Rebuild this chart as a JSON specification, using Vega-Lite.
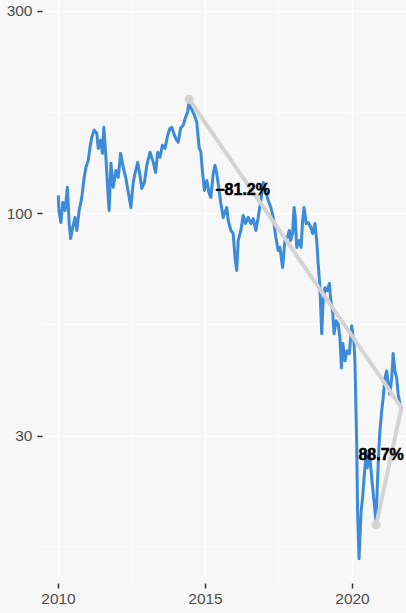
{
  "$schema": "https://vega.github.io/schema/vega-lite/v6.json",
  "usermeta": {"embedOptions": {"actions": false}},
  "width": 364,
  "height": 583,
  "autosize": {"type": "none"},
  "padding": {"left": 42, "top": 0, "right": 0, "bottom": 30},
  "background": "#f7f7f7",
  "config": {
    "view": {"fill": "#f7f7f7", "stroke": null},
    "font": "Liberation Sans",
    "axis": {
      "domain": false,
      "grid": true,
      "gridColor": "#ffffff",
      "gridWidth": 1.6,
      "tickColor": "#333333",
      "tickSize": 5,
      "tickWidth": 1.5,
      "labelFontSize": 15.5,
      "labelColor": "#4d4d4d",
      "labelFont": "Liberation Sans",
      "labelFlush": false,
      "labelOverlap": false
    }
  },
  "datasets": {
    "series": [
      {"t": 2010.01, "v": 110.3}, {"t": 2010.03, "v": 101.6}, {"t": 2010.10, "v": 95.2}, {"t": 2010.16, "v": 106.2},
      {"t": 2010.24, "v": 101.6}, {"t": 2010.32, "v": 115.2}, {"t": 2010.38, "v": 94.7}, {"t": 2010.43, "v": 87.3},
      {"t": 2010.50, "v": 92.7}, {"t": 2010.58, "v": 97.9}, {"t": 2010.64, "v": 91.2}, {"t": 2010.72, "v": 101.6},
      {"t": 2010.81, "v": 109.1}, {"t": 2010.89, "v": 121.6}, {"t": 2010.95, "v": 128.4}, {"t": 2011.03, "v": 133.4},
      {"t": 2011.09, "v": 143.1}, {"t": 2011.15, "v": 151.1}, {"t": 2011.23, "v": 157.0}, {"t": 2011.32, "v": 154.4},
      {"t": 2011.37, "v": 142.3}, {"t": 2011.45, "v": 148.7}, {"t": 2011.51, "v": 138.5}, {"t": 2011.56, "v": 159.5},
      {"t": 2011.63, "v": 135.6}, {"t": 2011.68, "v": 117.7}, {"t": 2011.74, "v": 101.6}, {"t": 2011.80, "v": 131.2},
      {"t": 2011.88, "v": 115.2}, {"t": 2011.97, "v": 126.3}, {"t": 2012.05, "v": 121.6}, {"t": 2012.13, "v": 138.5},
      {"t": 2012.22, "v": 128.4}, {"t": 2012.31, "v": 120.9}, {"t": 2012.41, "v": 110.3}, {"t": 2012.48, "v": 103.3},
      {"t": 2012.56, "v": 118.3}, {"t": 2012.62, "v": 124.3}, {"t": 2012.71, "v": 131.9}, {"t": 2012.79, "v": 122.9},
      {"t": 2012.85, "v": 114.5}, {"t": 2012.94, "v": 118.3}, {"t": 2013.02, "v": 129.8}, {"t": 2013.13, "v": 139.3},
      {"t": 2013.24, "v": 131.9}, {"t": 2013.32, "v": 124.9}, {"t": 2013.39, "v": 139.3}, {"t": 2013.47, "v": 135.6},
      {"t": 2013.55, "v": 144.7}, {"t": 2013.64, "v": 142.3}, {"t": 2013.73, "v": 152.8}, {"t": 2013.81, "v": 158.7},
      {"t": 2013.87, "v": 159.5}, {"t": 2013.96, "v": 152.8}, {"t": 2014.04, "v": 148.7}, {"t": 2014.09, "v": 147.1},
      {"t": 2014.17, "v": 158.7}, {"t": 2014.26, "v": 161.3}, {"t": 2014.34, "v": 168.5}, {"t": 2014.41, "v": 173.1},
      {"t": 2014.46, "v": 184.0}, {"t": 2014.51, "v": 178.0}, {"t": 2014.56, "v": 175.0}, {"t": 2014.64, "v": 170.3},
      {"t": 2014.72, "v": 163.9}, {"t": 2014.80, "v": 143.1}, {"t": 2014.86, "v": 139.3}, {"t": 2014.91, "v": 126.3},
      {"t": 2014.98, "v": 113.3}, {"t": 2015.06, "v": 119.6}, {"t": 2015.14, "v": 111.5}, {"t": 2015.20, "v": 109.1},
      {"t": 2015.28, "v": 124.3}, {"t": 2015.34, "v": 129.8}, {"t": 2015.40, "v": 124.3}, {"t": 2015.48, "v": 113.3},
      {"t": 2015.54, "v": 105.6}, {"t": 2015.62, "v": 97.9}, {"t": 2015.74, "v": 103.3}, {"t": 2015.79, "v": 96.3},
      {"t": 2015.88, "v": 91.2}, {"t": 2015.96, "v": 89.7}, {"t": 2016.02, "v": 78.7}, {"t": 2016.08, "v": 73.4},
      {"t": 2016.13, "v": 86.4}, {"t": 2016.22, "v": 91.2}, {"t": 2016.30, "v": 98.9}, {"t": 2016.38, "v": 94.7},
      {"t": 2016.47, "v": 97.9}, {"t": 2016.56, "v": 94.7}, {"t": 2016.64, "v": 97.3}, {"t": 2016.73, "v": 91.2},
      {"t": 2016.81, "v": 97.9}, {"t": 2016.90, "v": 107.3}, {"t": 2016.98, "v": 118.3}, {"t": 2017.06, "v": 113.3},
      {"t": 2017.15, "v": 107.3}, {"t": 2017.24, "v": 103.3}, {"t": 2017.32, "v": 97.9}, {"t": 2017.41, "v": 87.8},
      {"t": 2017.49, "v": 81.8}, {"t": 2017.55, "v": 83.2}, {"t": 2017.64, "v": 74.6}, {"t": 2017.72, "v": 86.4},
      {"t": 2017.80, "v": 87.8}, {"t": 2017.87, "v": 91.2}, {"t": 2017.91, "v": 86.4}, {"t": 2017.98, "v": 89.7},
      {"t": 2018.03, "v": 103.3}, {"t": 2018.07, "v": 97.9}, {"t": 2018.12, "v": 83.2}, {"t": 2018.21, "v": 86.4},
      {"t": 2018.27, "v": 83.2}, {"t": 2018.32, "v": 96.3}, {"t": 2018.37, "v": 103.3}, {"t": 2018.44, "v": 94.7},
      {"t": 2018.51, "v": 95.2}, {"t": 2018.60, "v": 92.7}, {"t": 2018.66, "v": 89.7}, {"t": 2018.74, "v": 94.7},
      {"t": 2018.80, "v": 86.4}, {"t": 2018.85, "v": 76.2}, {"t": 2018.91, "v": 66.9}, {"t": 2018.97, "v": 52.1},
      {"t": 2019.02, "v": 62.4}, {"t": 2019.08, "v": 66.9}, {"t": 2019.16, "v": 65.8}, {"t": 2019.23, "v": 68.4},
      {"t": 2019.28, "v": 62.4}, {"t": 2019.34, "v": 59.0}, {"t": 2019.39, "v": 52.1}, {"t": 2019.46, "v": 55.9},
      {"t": 2019.53, "v": 55.0}, {"t": 2019.59, "v": 51.0}, {"t": 2019.64, "v": 43.3}, {"t": 2019.69, "v": 49.4},
      {"t": 2019.76, "v": 45.0}, {"t": 2019.83, "v": 47.5}, {"t": 2019.91, "v": 46.8}, {"t": 2019.99, "v": 54.4},
      {"t": 2020.07, "v": 49.4}, {"t": 2020.10, "v": 45.0}, {"t": 2020.16, "v": 28.7}, {"t": 2020.19, "v": 19.9},
      {"t": 2020.24, "v": 15.4}, {"t": 2020.27, "v": 17.2}, {"t": 2020.31, "v": 19.9}, {"t": 2020.36, "v": 21.4},
      {"t": 2020.41, "v": 23.8}, {"t": 2020.48, "v": 27.2}, {"t": 2020.52, "v": 25.2}, {"t": 2020.59, "v": 27.6},
      {"t": 2020.65, "v": 24.8}, {"t": 2020.69, "v": 23.1}, {"t": 2020.75, "v": 21.0}, {"t": 2020.82, "v": 18.8},
      {"t": 2020.86, "v": 22.6}, {"t": 2020.91, "v": 27.6}, {"t": 2020.95, "v": 30.8}, {"t": 2021.01, "v": 34.3},
      {"t": 2021.06, "v": 36.8}, {"t": 2021.12, "v": 41.0}, {"t": 2021.18, "v": 42.6}, {"t": 2021.23, "v": 39.7},
      {"t": 2021.29, "v": 37.6}, {"t": 2021.35, "v": 41.0}, {"t": 2021.40, "v": 46.8}, {"t": 2021.46, "v": 42.6},
      {"t": 2021.52, "v": 41.0}, {"t": 2021.57, "v": 37.6}, {"t": 2021.63, "v": 35.6}, {"t": 2021.68, "v": 34.9}
    ],
    "segments": [
      {"seg": "a", "t": 2014.46, "v": 185.7},
      {"seg": "a", "t": 2021.68, "v": 34.9},
      {"seg": "b", "t": 2020.82, "v": 18.5},
      {"seg": "b", "t": 2021.68, "v": 34.9}
    ],
    "anchors": [
      {"t": 2014.46, "v": 185.7},
      {"t": 2020.82, "v": 18.5}
    ],
    "labels": [
      {"t": 2016.28, "v": 113.3, "label": "−81.2%"},
      {"t": 2020.99, "v": 27.0, "label": "88.7%"}
    ],
    "xminor": [{"t": 2012.5}, {"t": 2017.5}],
    "yminor": [{"v": 16.43}, {"v": 54.77}, {"v": 173.2}]
  },
  "layer": [
    {
      "data": {"name": "xminor"},
      "mark": {"type": "rule", "color": "#ffffff", "strokeWidth": 0.8},
      "encoding": {
        "x": {"field": "t", "type": "quantitative", "title": null, "scale": {"domain": [2009.456, 2021.837], "nice": false, "zero": false},
              "axis": {"values": [2010, 2015, 2020], "format": "d", "labelPadding": 3, "title": null}}
      }
    },
    {
      "data": {"name": "yminor"},
      "mark": {"type": "rule", "color": "#ffffff", "strokeWidth": 0.8},
      "encoding": {
        "y": {"field": "v", "type": "quantitative", "title": null, "scale": {"type": "log", "domain": [13.5, 318], "nice": false},
              "axis": {"values": [30, 100, 300], "format": "d", "labelPadding": 5, "title": null}}
      }
    },
    {
      "data": {"name": "series"},
      "mark": {"type": "line", "color": "#3b8bd9", "strokeWidth": 3, "strokeJoin": "round"},
      "encoding": {
        "x": {"field": "t", "type": "quantitative", "title": null, "scale": {"domain": [2009.456, 2021.837], "nice": false, "zero": false},
              "axis": {"values": [2010, 2015, 2020], "format": "d", "labelPadding": 3, "title": null}},
        "y": {"field": "v", "type": "quantitative", "title": null, "scale": {"type": "log", "domain": [13.5, 318], "nice": false},
              "axis": {"values": [30, 100, 300], "format": "d", "labelPadding": 5, "title": null}}
      }
    },
    {
      "data": {"name": "segments"},
      "mark": {"type": "line", "color": "#d3d3d3", "strokeWidth": 4, "strokeCap": "round"},
      "encoding": {
        "x": {"field": "t", "type": "quantitative", "title": null, "scale": {"domain": [2009.456, 2021.837], "nice": false, "zero": false},
              "axis": {"values": [2010, 2015, 2020], "format": "d", "labelPadding": 3, "title": null}},
        "y": {"field": "v", "type": "quantitative", "title": null, "scale": {"type": "log", "domain": [13.5, 318], "nice": false},
              "axis": {"values": [30, 100, 300], "format": "d", "labelPadding": 5, "title": null}},
        "detail": {"field": "seg"}
      }
    },
    {
      "data": {"name": "anchors"},
      "mark": {"type": "circle", "color": "#d3d3d3", "opacity": 1, "size": 85},
      "encoding": {
        "x": {"field": "t", "type": "quantitative", "title": null, "scale": {"domain": [2009.456, 2021.837], "nice": false, "zero": false},
              "axis": {"values": [2010, 2015, 2020], "format": "d", "labelPadding": 3, "title": null}},
        "y": {"field": "v", "type": "quantitative", "title": null, "scale": {"type": "log", "domain": [13.5, 318], "nice": false},
              "axis": {"values": [30, 100, 300], "format": "d", "labelPadding": 5, "title": null}}
      }
    },
    {
      "data": {"name": "labels"},
      "mark": {"type": "text", "font": "Liberation Sans", "fontWeight": "bold", "fontSize": 16, "color": "#000000", "stroke": "#000000", "strokeWidth": 0.5, "align": "center", "baseline": "middle"},
      "encoding": {
        "x": {"field": "t", "type": "quantitative", "title": null, "scale": {"domain": [2009.456, 2021.837], "nice": false, "zero": false},
              "axis": {"values": [2010, 2015, 2020], "format": "d", "labelPadding": 3, "title": null}},
        "y": {"field": "v", "type": "quantitative", "title": null, "scale": {"type": "log", "domain": [13.5, 318], "nice": false},
              "axis": {"values": [30, 100, 300], "format": "d", "labelPadding": 5, "title": null}},
        "text": {"field": "label"}
      }
    }
  ]
}
